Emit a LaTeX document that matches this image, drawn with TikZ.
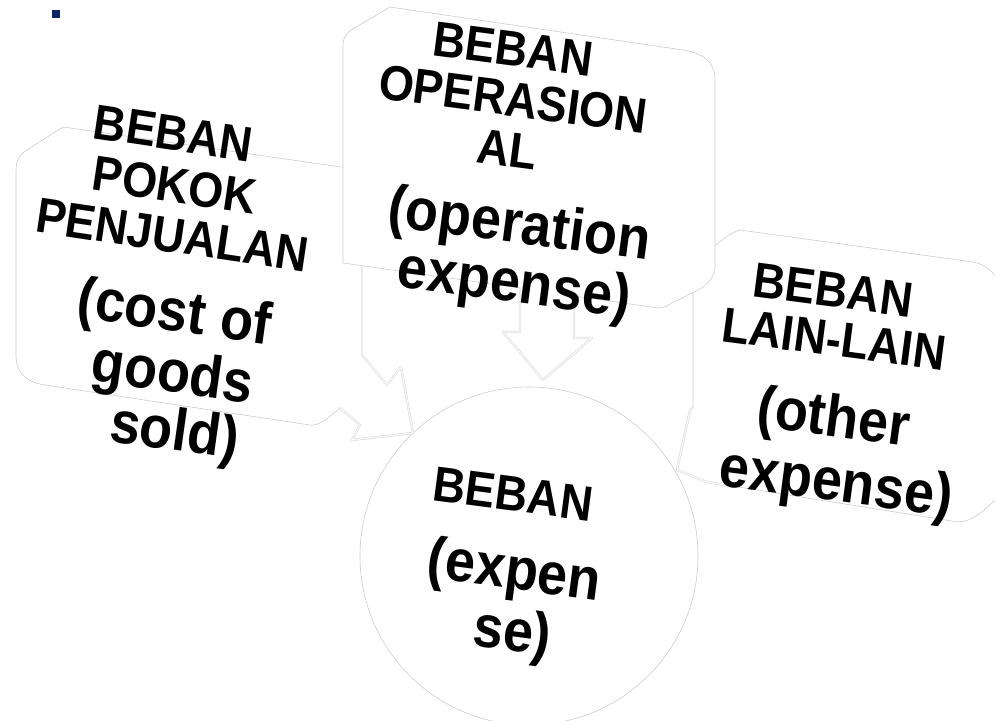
\documentclass[tikz,border=0pt]{standalone}
\usepackage{fontspec}
\setmainfont{Liberation Sans}
\definecolor{bulletblue}{RGB}{10,36,100}
\definecolor{edge}{RGB}{205,205,205}
\begin{document}
\begin{tikzpicture}[x=1pt,y=-1pt,
  panel/.style={fill=white, draw=edge, line width=0.6pt, line join=round},
  arrowrim/.style={draw=gray!30, line width=0.5pt, double=gray!6, double distance=1.3pt, line join=round},
  ttl/.style={font=\fontsize{45}{45}\selectfont\bfseries, inner sep=0, anchor=base, rotate=#1, yscale=1.1},
  sub/.style={font=\fontsize{54}{54}\selectfont\bfseries, inner sep=0, anchor=base, rotate=#1, yscale=1.1},
  ttl/.default=-7.5, sub/.default=-7.5]
\useasboundingbox (0,0) rectangle (995,720);
\fill[white] (0,0) rectangle (995,720);

% bullet mark
\node (bullet) [fill=bulletblue, minimum size=8pt, inner sep=0] at (56,14) {};

% central circle
\node (hub) [circle, panel, minimum size=338pt, inner sep=0] at (529,556) {};

% right panel with its arrow pointing left
\draw[panel] (740,230) -- (973,262) .. controls (985,264) and (995,272) .. (1000,285)
  -- (1000,495) .. controls (985,510) and (972,522) .. (958,522)
  -- (707,482) -- (677,470) -- (690,410) -- (693,408) -- (693,262)
  .. controls (700,256) and (708,250) .. (715,246) .. controls (722,240) and (730,233) .. cycle;
\draw[arrowrim] (735,487) -- (707,482) -- (677,470) -- (690,410) -- (693,408);

% left panel with its arrow pointing to the hub
\draw[panel] (63,127) -- (362,170) -- (362,355) -- (387,385) -- (401,367) -- (413,433)
  -- (352,440) -- (360,425) -- (340,408)
  .. controls (328,418) and (320,426) .. (310,425) -- (45,385)
  .. controls (25,382) and (16,372) .. (16,355) -- (16,172)
  .. controls (16,160) and (19,155) .. (27,150) -- cycle;
\draw[arrowrim] (362,355) -- (387,385) -- (401,367) -- (413,433) -- (352,440) -- (360,425) -- (340,408);

% middle panel with its arrow pointing down
\draw[panel] (390,7) -- (683,50) .. controls (703,53) and (715,62) .. (715,80)
  -- (715,268) .. controls (713,282) and (703,288) .. (690,294)
  -- (672,303) .. controls (667,306) and (664,308) .. (658,308)
  -- (574,296) -- (574,338) -- (592,338) -- (543,380) -- (503,332) -- (520,332) -- (520,288)
  -- (343,263) -- (343,45) .. controls (343,35) and (350,30) .. (358,26) -- cycle;
\draw[arrowrim] (574,300) -- (574,338) -- (592,338) -- (543,380) -- (503,332) -- (520,332) -- (520,300);

% left panel text
\node (l1) [ttl=-8.5] at (171,150) {BEBAN};
\node (l2) [ttl=-8.5] at (172,202) {POKOK};
\node (l3) [ttl=-8.5] at (170,252) {PENJUALAN};
\node (l4) [sub=-8] at (172,331) {(cost of};
\node (l5) [sub=-8] at (170,392) {goods};
\node (l6) [sub=-8] at (172,450) {sold)};

% middle panel text
\node (m1) [ttl] at (511,66) {BEBAN};
\node (m2) [ttl] at (511,116) {OPERASION};
\node (m3) [ttl] at (505,166) {AL};
\node (m4) [sub] at (517,243) {(operation};
\node (m5) [sub] at (512,302) {expense)};

% right panel text
\node (r1) [ttl] at (831,307) {BEBAN};
\node (r2) [ttl] at (832,356) {LAIN-LAIN};
\node (r3) [sub] at (831,436) {(other};
\node (r4) [sub] at (834,501) {expense)};

% hub text
\node (c1) [ttl] at (511,511) {BEBAN};
\node (c2) [sub] at (512,589) {(expen};
\node (c3) [sub] at (510,651) {se)};
\end{tikzpicture}
\end{document}
